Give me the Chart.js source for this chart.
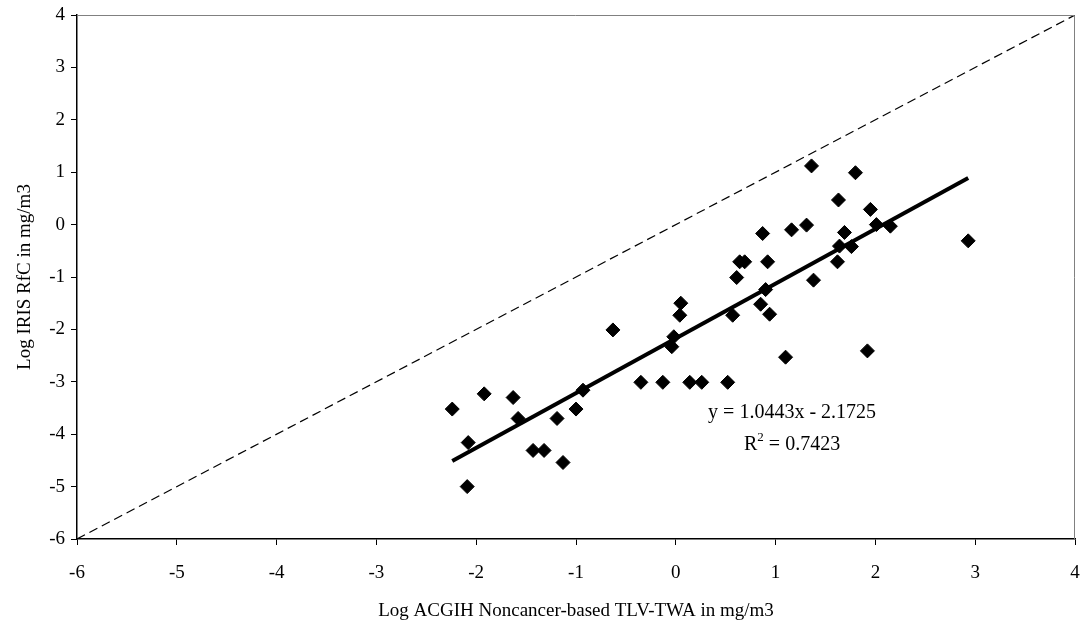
<!DOCTYPE html>
<html>
<head>
<meta charset="utf-8">
<script src="https://cdn.jsdelivr.net/npm/chart.js@4.4.1/dist/chart.umd.min.js"></script>
<style>
  html, body { margin: 0; padding: 0; background: #fff; }
</style>
</head>
<body>
<canvas id="chart" width="1083" height="627"></canvas>
<script>
// ── Data ────────────────────────────────────────────────────
// log10 ACGIH noncancer TLV-TWA (x) vs log10 IRIS RfC (y), both mg/m3
const tlvLog = [
  -2.24, -2.08, -2.09, -1.92, -1.63, -1.58, -1.43, -1.32, -1.19, -1.13,
  -1.00, -0.93, -0.63, -0.35, -0.13, -0.04, -0.02,  0.04,  0.05,  0.14,
   0.26,  0.52,  0.57,  0.61,  0.64,  0.69,  0.85,  0.87,  0.90,  0.92,
   0.94,  1.10,  1.16,  1.31,  1.36,  1.38,  1.62,  1.63,  1.64,  1.69,
   1.76,  1.80,  1.92,  1.95,  2.01,  2.15,  2.93
];
const rfcLog = [
  -3.52, -4.16, -5.00, -3.23, -3.30, -3.70, -4.31, -4.31, -3.70, -4.54,
  -3.52, -3.16, -2.01, -3.01, -3.01, -2.33, -2.14, -1.73, -1.50, -3.01,
  -3.01, -3.01, -1.73, -1.01, -0.71, -0.71, -1.52, -0.17, -1.24, -0.71,
  -1.71, -2.53, -0.10, -0.01,  1.12, -1.06, -0.71,  0.47, -0.41, -0.15,
  -0.42,  0.99, -2.41,  0.29,  0.00, -0.03, -0.31
];
const axisMin = -6;
const axisMax = 4;

// linear fit reported on the chart
const slope     = 1.0443;
const intercept = -2.1725;
const rSquared  = 0.7423;

// ── Derived series ──────────────────────────────────────────
const points    = tlvLog.map((x, i) => ({ x, y: rfcLog[i] }));
const xLo       = Math.min(...tlvLog);
const xHi       = Math.max(...tlvLog);
const fitLine   = [xLo, xHi].map(x => ({ x, y: slope * x + intercept }));
const unityLine = [{ x: axisMin, y: axisMin }, { x: axisMax, y: axisMax }];

const FONT = "'Liberation Serif', 'Times New Roman', serif";
Chart.defaults.font.family = FONT;
Chart.defaults.font.size   = 19;
Chart.defaults.color       = '#000';

// gray frame on top/right + regression label
const frameAndLabel = {
  id: 'frameAndLabel',
  afterDatasetsDraw(chart) {
    const { ctx, chartArea: a, scales: { x, y } } = chart;
    ctx.save();
    ctx.strokeStyle = '#808080';
    ctx.lineWidth = 1;
    ctx.beginPath();
    ctx.moveTo(a.left, a.top + 0.5);
    ctx.lineTo(a.right - 0.5, a.top + 0.5);
    ctx.lineTo(a.right - 0.5, a.bottom);
    ctx.stroke();

    ctx.fillStyle = '#000';
    ctx.textBaseline = 'middle';
    const cx = x.getPixelForValue(1.165);
    ctx.font = '20px ' + FONT;
    ctx.textAlign = 'center';
    ctx.fillText(`y = ${slope.toFixed(4)}x - ${Math.abs(intercept).toFixed(4)}`, cx, y.getPixelForValue(-3.6));

    // R² with a raised 2
    const ly    = y.getPixelForValue(-4.2);
    const rest  = ` = ${rSquared.toFixed(4)}`;
    const wR    = ctx.measureText('R').width;
    const wRest = ctx.measureText(rest).width;
    ctx.font = '13px ' + FONT;
    const w2 = ctx.measureText('2').width;
    const sx = cx - (wR + w2 + wRest) / 2;
    ctx.textAlign = 'left';
    ctx.font = '20px ' + FONT;
    ctx.fillText('R', sx, ly);
    ctx.font = '13px ' + FONT;
    ctx.fillText('2', sx + wR, ly - 7);
    ctx.font = '20px ' + FONT;
    ctx.fillText(rest, sx + wR + w2, ly);
    ctx.restore();
  }
};

const axisCommon = {
  type: 'linear',
  min: axisMin,
  max: axisMax,
  grid:   { drawOnChartArea: false, color: '#000', tickLength: 6, lineWidth: 1 },
  border: { color: '#000', width: 1.5 }
};

new Chart(document.getElementById('chart'), {
  type: 'scatter',
  data: {
    datasets: [{
      label: 'Points',
      data: points,
      pointStyle: 'rectRot',
      pointRadius: 7,
      backgroundColor: '#000',
      borderColor: '#000',
      borderWidth: 1,
      order: 0
    }, {
      label: 'Linear fit',
      type: 'line',
      data: fitLine,
      borderColor: '#000',
      borderWidth: 4,
      pointRadius: 0,
      fill: false,
      order: 1
    }, {
      label: '1:1',
      type: 'line',
      data: unityLine,
      borderColor: '#000',
      borderWidth: 1.2,
      borderDash: [9, 5],
      pointRadius: 0,
      fill: false,
      order: 2
    }]
  },
  options: {
    responsive: false,
    animation: false,
    layout: { padding: { left: 0, top: 15, right: 6, bottom: 0 } },
    plugins: { legend: { display: false }, tooltip: { enabled: false } },
    scales: {
      x: {
        ...axisCommon,
        position: 'bottom',
        ticks: { stepSize: 1, padding: 17 },
        title: {
          display: true,
          text: 'Log ACGIH Noncancer-based TLV-TWA in mg/m3',
          padding: { top: 0, bottom: 5 }
        },
        afterFit: s => { s.height = 88; s.paddingLeft = 0; s.paddingRight = 0; }
      },
      y: {
        ...axisCommon,
        position: 'left',
        ticks: { stepSize: 1, padding: 6 },
        title: {
          display: true,
          text: 'Log IRIS RfC in mg/m3',
          padding: { top: 14, bottom: 0 }
        },
        afterFit: s => { s.width = 77; s.paddingTop = 0; s.paddingBottom = 0; }
      }
    }
  },
  plugins: [frameAndLabel]
});
</script>
</body>
</html>
